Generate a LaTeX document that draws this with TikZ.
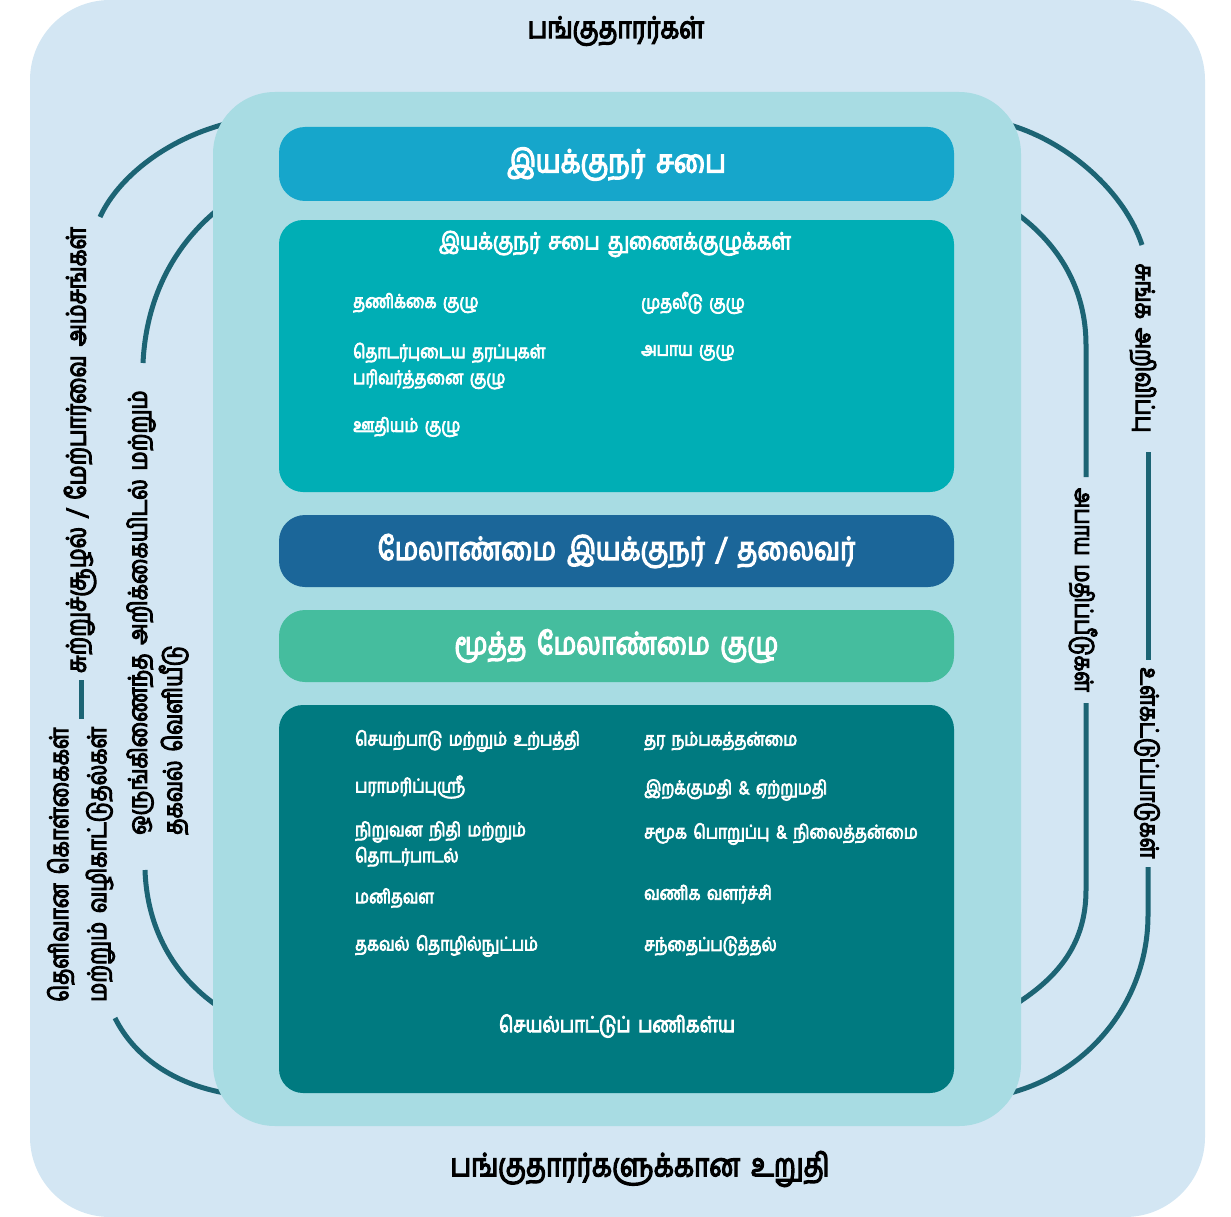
\documentclass[tikz,border=0pt]{standalone}
\usepackage{fontspec}
\newfontfamily\tam[Script=Tamil,FakeStretch=0.82,FakeBold=4,WordSpace=1.7]{Hind Madurai}
\definecolor{outerbg}{HTML}{D3E6F3}
\definecolor{innerbg}{HTML}{A8DCE3}
\definecolor{boardc}{HTML}{16A6CB}
\definecolor{commc}{HTML}{00AEB5}
\definecolor{mdc}{HTML}{1B6699}
\definecolor{seniorc}{HTML}{45BD9E}
\definecolor{opsc}{HTML}{007A80}
\definecolor{arcc}{HTML}{1C6474}
\begin{document}
\begin{tikzpicture}[x=1pt,y=-1pt,
  band/.style={rounded corners=26pt, minimum width=675pt, inner sep=0pt, text=white, font=\tam\fontsize{32}{36}\selectfont},
  item/.style={anchor=west, text=white, inner sep=0pt, align=left, font=\tam\fontsize{19}{26}\selectfont},
  side/.style={inner sep=0pt, text=black, align=left, font=\tam\fontsize{26}{36}\selectfont},
  arcline/.style={draw=arcc, line width=5pt}]
\useasboundingbox (0,0) rectangle (1231,1217);
% outer area
\fill[outerbg, rounded corners=80pt] (30,0) rectangle (1205,1217);
% connector tracks
\coordinate (lo1) at (225,124);
\coordinate (lo2) at (100,217);
\coordinate (lo3) at (81.5,680);
\coordinate (lo4) at (81.5,719);
\coordinate (lo5) at (115,1018);
\coordinate (lo6) at (225,1093);
\coordinate (li1) at (216,211);
\coordinate (li2) at (143,363);
\coordinate (li3) at (145,870);
\coordinate (li4) at (216,1005);
\coordinate (ro1) at (1010,125);
\coordinate (ro2) at (1142,245);
\coordinate (ro3) at (1148,452);
\coordinate (ro4) at (1148,660);
\coordinate (ro5) at (1148,867);
\coordinate (ro6) at (1010,1093);
\coordinate (ri1) at (1016,213);
\coordinate (ri2) at (1086,477);
\coordinate (ri3) at (1086,703);
\coordinate (ri4) at (1016,1004);
\draw[arcline] (lo1) .. controls (165,140) and (118,178) .. (lo2);
\draw[arcline] (lo3) -- (lo4);
\draw[arcline] (lo5) .. controls (135,1058) and (175,1084) .. (lo6);
\draw[arcline] (li1) .. controls (172,248) and (146,300) .. (li2);
\draw[arcline] (li3) .. controls (147,930) and (175,976) .. (li4);
\draw[arcline] (ro1) .. controls (1070,143) and (1125,193) .. (ro2);
\draw[arcline] (ro3) -- (ro4);
\draw[arcline] (ro5) -- (1148,915) .. controls (1148,1000) and (1090,1072) .. (ro6);
\draw[arcline] (ri1) .. controls (1060,245) and (1086,290) .. (1086,345) -- (ri2);
\draw[arcline] (ri3) -- (1086,890) .. controls (1086,942) and (1060,976) .. (ri4);
% inner area
\fill[innerbg, rounded corners=62pt] (213,92) rectangle (1021,1126);
% titles
\node[text=black, font=\tam\fontsize{30}{34}\selectfont, inner sep=0pt] (share) at (616,31) {பங்குதாரர்கள்};
\node[text=black, font=\tam\fontsize{32}{36}\selectfont, inner sep=0pt] (assure) at (640,1169) {பங்குதாரர்களுக்கான உறுதி};
% bands
\node[band, fill=boardc, minimum height=74pt] (board) at (616.5,164) {\raisebox{3pt}{இயக்குநர் சபை}};
\node[band, fill=commc, minimum height=272pt, rounded corners=24pt] (comm) at (616.5,356) {};
\node[band, fill=mdc, minimum height=72pt] (md) at (616.5,551) {மேலாண்மை இயக்குநர் / தலைவர்};
\node[band, fill=seniorc, minimum height=72pt, font=\tam\fontsize{31}{36}\selectfont] (senior) at (616.5,646) {மூத்த மேலாண்மை குழு};
\node[band, fill=opsc, minimum height=388pt, rounded corners=24pt] (ops) at (616.5,899) {};
% committee texts
\node[text=white, inner sep=0pt, font=\tam\fontsize{23.5}{26}\selectfont] (commt) at (615,244) {இயக்குநர் சபை துணைக்குழுக்கள்};
\node[item] (c1) at (353,303) {தணிக்கை குழு};
\node[item] (c2) at (641,303) {முதலீடு குழு};
\node[item] (c3) at (353,366) {தொடர்புடைய தரப்புகள்\\பரிவர்த்தனை குழு};
\node[item] (c4) at (641,353) {அபாய குழு};
\node[item] (c5) at (353,427) {ஊதியம் குழு};
% operations texts
\node[item] (o1) at (355,741) {செயற்பாடு மற்றும் உற்பத்தி};
\node[item] (o2) at (644,741) {தர நம்பகத்தன்மை};
\node[item] (o3) at (355,787) {பராமரிப்புஸ்ரீ};
\node[item] (o4) at (644,790) {இறக்குமதி \& ஏற்றுமதி};
\node[item] (o5) at (355,844) {நிறுவன நிதி மற்றும்\\தொடர்பாடல்};
\node[item] (o6) at (644,834) {சமூக பொறுப்பு \& நிலைத்தன்மை};
\node[item] (o7) at (355,898) {மனிதவள};
\node[item] (o8) at (644,894) {வணிக வளர்ச்சி};
\node[item] (o9) at (355,946) {தகவல் தொழில்நுட்பம்};
\node[item] (o10) at (644,946) {சந்தைப்படுத்தல்};
\node[text=white, inner sep=0pt, font=\tam\fontsize{22}{26}\selectfont] (opst) at (617,1026) {செயல்பாட்டுப் பணிகள்ய};
% side texts
\node[side, rotate=90, font=\tam\fontsize{27}{36}\selectfont] (ls1) at (80,450) {சுற்றுச்சூழல் / மேற்பார்வை அம்சங்கள்};
\node[side, rotate=90, anchor=west, font=\tam\fontsize{26}{38}\selectfont] (ls2) at (81,1002) {தெளிவான கொள்கைகள்\\மற்றும் வழிகாட்டுதல்கள்};
\node[side, rotate=90, anchor=west, font=\tam\fontsize{26}{35}\selectfont] (ls3) at (157.5,835) {ஒருங்கிணைந்த அறிக்கையிடல் மற்றும்\\தகவல் வெளியீடு};
\node[side, rotate=-90] (rs1) at (1143,348) {சுங்க அறிவிப்பு};
\node[side, rotate=-90, font=\tam\fontsize{25}{36}\selectfont] (rs2) at (1147,763) {உள்கட்டுப்பாடுகள்};
\node[side, rotate=-90, font=\tam\fontsize{25}{36}\selectfont] (rs3) at (1083,590) {அபாய மதிப்பீடுகள்};
\end{tikzpicture}
\end{document}
